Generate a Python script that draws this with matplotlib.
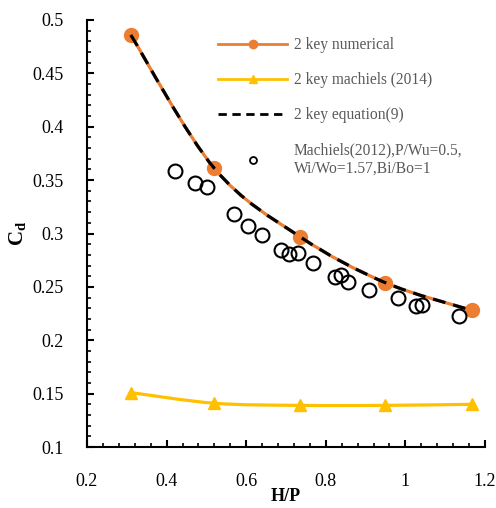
import matplotlib
matplotlib.use("Agg")
import matplotlib.pyplot as plt
import numpy as np
from matplotlib.path import Path
from matplotlib.patches import PathPatch
from matplotlib.lines import Line2D
from matplotlib.ticker import MultipleLocator

# Data
hp_num = [0.31, 0.52, 0.735, 0.949, 1.167]
cd_num = [0.486, 0.361, 0.297, 0.254, 0.228]
cd_mach2014 = [0.151, 0.141, 0.139, 0.139, 0.140]
cd_eq9 = [0.486, 0.361, 0.297, 0.254, 0.228]
hp_exp = [0.421, 0.471, 0.501, 0.569, 0.605, 0.640, 0.687, 0.708, 0.730,
          0.768, 0.823, 0.838, 0.856, 0.908, 0.981, 1.027, 1.042, 1.135]
cd_exp = [0.359, 0.347, 0.344, 0.318, 0.307, 0.299, 0.285, 0.281, 0.282,
          0.272, 0.259, 0.261, 0.255, 0.247, 0.240, 0.232, 0.233, 0.223]
x_ticks = [0.2, 0.4, 0.6, 0.8, 1.0, 1.2]
x_tick_labels = ['0.2', '0.4', '0.6', '0.8', '1', '1.2']
y_ticks = [0.1, 0.15, 0.2, 0.25, 0.3, 0.35, 0.4, 0.45, 0.5]
y_tick_labels = ['0.1', '0.15', '0.2', '0.25', '0.3', '0.35', '0.4', '0.45', '0.5']

ORANGE = "#ED7D31"
YELLOW = "#FFC000"
TXT = "#595959"

plt.rcParams['font.family'] = ['Liberation Serif', 'DejaVu Serif']
plt.rcParams['mathtext.fontset'] = 'custom'
plt.rcParams['mathtext.rm'] = 'Liberation Serif'
plt.rcParams['mathtext.bf'] = 'Liberation Serif:bold'

fig = plt.figure(figsize=(4.96, 5.08), dpi=100)
ax = fig.add_axes([87/496, 1-447/508, (485-87)/496, (447-20)/508])


def smooth_path(xs, ys, t=1/6):
    # Catmull-Rom style smoothing (like Excel smoothed lines)
    pts = np.column_stack([xs, ys])
    verts = [pts[0]]
    codes = [Path.MOVETO]
    n = len(pts)
    for i in range(n - 1):
        p0 = pts[i - 1] if i > 0 else pts[i]
        p1 = pts[i]
        p2 = pts[i + 1]
        p3 = pts[i + 2] if i + 2 < n else pts[i + 1]
        c1 = p1 + (p2 - p0) * t
        c2 = p2 - (p3 - p1) * t
        verts += [c1, c2, p2]
        codes += [Path.CURVE4] * 3
    return Path(verts, codes)


# numerical: smooth orange line + markers
ax.add_patch(PathPatch(smooth_path(hp_num, cd_num), fill=False, edgecolor=ORANGE,
                       lw=2.3, zorder=2))
ax.plot(hp_num, cd_num, 'o', color=ORANGE, ms=10, zorder=3)

# machiels 2014
ax.add_patch(PathPatch(smooth_path(hp_num, cd_mach2014), fill=False, edgecolor=YELLOW,
                       lw=2.3, zorder=2))
ax.plot(hp_num, cd_mach2014, '^', color=YELLOW, ms=9, zorder=3)

# equation 9 dashed
ax.add_patch(PathPatch(smooth_path(hp_num, cd_eq9), fill=False, edgecolor='black',
                       lw=2.3, linestyle=(0, (4, 2.5)), zorder=4))

# experimental open circles
ax.plot(hp_exp, cd_exp, 'o', mfc='none', mec='black', mew=1.5, ms=10, ls='none', zorder=5)

ax.set_xlim(0.2, 1.2)
ax.set_ylim(0.1, 0.5)
ax.set_xticks(x_ticks)
ax.set_xticklabels(x_tick_labels)
ax.set_yticks(y_ticks)
ax.set_yticklabels(y_tick_labels)
ax.xaxis.set_minor_locator(MultipleLocator(0.04))
ax.yaxis.set_minor_locator(MultipleLocator(0.01))

for s in ['top', 'right']:
    ax.spines[s].set_visible(False)
for s in ['left', 'bottom']:
    ax.spines[s].set_linewidth(1.5)

ax.tick_params(which='major', direction='in', length=5, width=1.5, labelsize=13,
               colors='black')
ax.tick_params(which='minor', direction='in', length=3, width=1.2)
ax.tick_params(axis='x', which='major', pad=19)
ax.tick_params(axis='y', which='major', pad=17)

ax.set_xlabel('H/P', fontsize=13, fontweight='bold', labelpad=-2)
ax.set_ylabel(r'$\mathbf{C_d}$', fontsize=15, labelpad=3)

handles = [
    Line2D([], [], color=ORANGE, lw=2, marker='o', ms=6),
    Line2D([], [], color=YELLOW, lw=2, marker='^', ms=6),
    Line2D([], [], color='black', lw=2, ls=(0, (3, 2))),
    Line2D([], [], ls='none', marker='o', mfc='none', mec='black', mew=1.3, ms=5),
]
labels = ['2 key numerical', '2 key machiels (2014)', '2 key equation(9)',
          'Machiels(2012),P/Wu=0.5,\nWi/Wo=1.57,Bi/Bo=1']
leg = ax.legend(handles, labels, loc='upper left', bbox_to_anchor=(0.295, 0.992),
                frameon=False, fontsize=11.2, labelcolor=TXT, handlelength=4.4,
                labelspacing=1.22, handletextpad=0.45)

fig.savefig('out.png', dpi=100)
